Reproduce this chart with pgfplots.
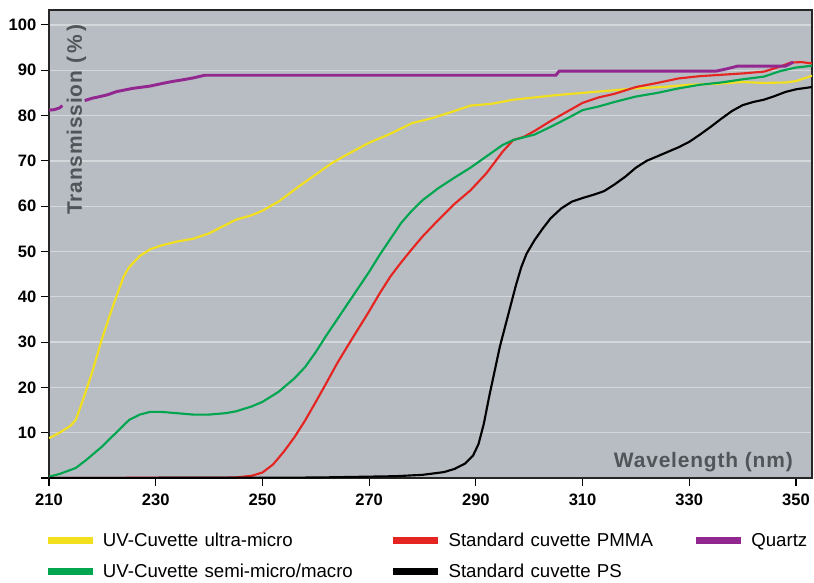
\documentclass[border=0pt]{standalone}
\usepackage{fontspec}
\setmainfont{Liberation Sans}
\newfontfamily\labfont[LetterSpace=4]{Liberation Sans}
\usepackage{pgfplots}
\pgfplotsset{compat=1.18}
\definecolor{bg}{HTML}{B8BDC3}
\definecolor{gridc}{HTML}{D5D8DB}
\definecolor{labgray}{HTML}{50555A}
\definecolor{cyel}{HTML}{F2E01E}
\definecolor{cred}{HTML}{E52521}
\definecolor{cgreen}{HTML}{00A550}
\definecolor{cpurple}{HTML}{92278F}
\begin{document}
\begin{tikzpicture}
\begin{axis}[
  at={(0,0)}, anchor=south west,
  scale only axis, width=572.25pt, height=351pt,
  xmin=210, xmax=353, ymin=0, ymax=103.3,
  axis background/.style={fill=bg},
  axis line style={draw=black!85, line width=1.2pt},
  xtick={210,230,...,350},
  ytick={0,10,...,100},
  yticklabels={,10,20,30,40,50,60,70,80,90,100},
  tick pos=left, tick align=outside, major tick length=6pt,
  tick style={black, line width=0.8pt},
  ymajorgrids, grid style={gridc, line width=1pt},
  ticklabel style={font=\fontsize{12.4}{14}\selectfont\bfseries},
  /pgf/number format/assume math mode=true,
  xticklabel style={yshift=-2.5pt},
  legend columns=3,
  legend style={at={(0,0)}, anchor=north west, xshift=-3.75pt, yshift=-41.5pt,
    draw=none, fill=none, inner sep=0pt, column sep=5.25pt, row sep=13.25pt,
    font=\fontsize{14}{16}\selectfont,
    nodes={inner sep=0pt, text height=10pt, text depth=0pt},
    /tikz/column 2/.style={nodes={text width=210pt}},
    /tikz/column 4/.style={nodes={text width=177.75pt}}},
  legend cell align=left,
  legend image code/.code={\draw[#1, line width=5pt, line cap=butt] (0pt,0pt) -- (33.75pt,0pt);},
]
% UV-Cuvette ultra-micro
\addplot[cyel, line width=1.6pt] coordinates {
(210,8.8)(212,10)(214,11.5)(215,12.8)(216,16)(218,23)(220,31)(222,38)(224,44.5)(225,46.5)
(227,49)(229,50.5)(231,51.3)(234,52.2)(237,52.8)(240,54)(243,55.8)(245,57)(248,58)(250,59)
(253,61)(257,64.5)(260,67)(263,69.5)(266,71.5)(270,74)(274,76)(278,78.3)(282,79.5)(286,81)
(289,82.2)(293,82.6)(297,83.5)(301,84)(305,84.5)(310,85)(315,85.5)(320,86)(325,86.3)(330,86.8)
(335,87)(340,87.4)(344,87.2)(348,87.3)(350,87.6)(353,88.8)};
\addlegendentry{UV-Cuvette ultra-micro}
% Standard cuvette PMMA
\addplot[cred, line width=1.6pt] coordinates {
(210,0)(245,0.1)(248,0.5)(250,1.2)(252,3)(254,5.8)(256,9)(258,12.7)(260,16.8)(262,21)
(264,25.3)(266,29.2)(268,33)(270,36.8)(272,40.8)(274,44.5)(276,47.6)(278,50.5)(280,53.3)(283,57)
(286,60.5)(289,63.5)(292,67.3)(295,72)(297,74.6)(299,75.3)(301,76.6)(304,78.8)(307,80.8)(310,82.8)
(313,84)(316,84.8)(320,86.3)(324,87.2)(328,88.2)(332,88.7)(336,89)(340,89.3)(344,89.7)(347,90.8)
(349,91.7)(351,91.8)(353,91.5)};
\addlegendentry{Standard cuvette PMMA}
% Quartz
\addplot[cpurple, line width=2.2pt] coordinates {
(210,81.2)(211,81.3)(212,81.7)(212.5,82.2)};
\addlegendentry{Quartz}
% UV-Cuvette semi-micro/macro
\addplot[cgreen, line width=1.6pt] coordinates {
(210,0.3)(212,0.9)(215,2.2)(217,4)(220,7)(223,10.5)(225,12.8)(227,14)(229,14.6)(231,14.6)
(234,14.3)(237,14)(240,14)(243,14.3)(245,14.7)(248,15.8)(250,16.8)(253,19)(256,22)(258,24.5)
(260,27.8)(262,31.5)(264,35)(266,38.5)(268,42)(270,45.5)(272,49.3)(274,52.8)(276,56.3)(278,59)
(280,61.3)(283,64)(286,66.3)(289,68.5)(292,71)(295,73.5)(297,74.6)(299,75.2)(301,75.8)(304,77.5)
(307,79.3)(310,81.2)(313,82)(316,83)(320,84.2)(324,85)(328,86)(332,86.8)(336,87.3)(340,88)
(344,88.6)(347,89.8)(350,90.6)(353,91)};
\addlegendentry{UV-Cuvette semi-micro/macro}
% Standard cuvette PS
\addplot[black, line width=1.6pt] coordinates {
(210,0)(260,0.1)(270,0.3)(275,0.4)(280,0.7)(284,1.3)(286,2)(288,3.2)(289.5,5)(290.5,7.5)
(291.5,12)(292.5,18)(293.5,23.5)(294.5,29)(295.5,33.5)(296.5,38)(297.5,42.5)(298.5,46.5)(299.5,49.5)(301,52.5)
(302.5,55)(304,57.3)(306,59.5)(308,61)(310,61.8)(312,62.5)(314,63.3)(316,64.8)(318,66.5)(320,68.5)
(322,70)(324,71)(326,72)(328,73)(330,74.2)(332,75.8)(334,77.5)(336,79.3)(338,81)(340,82.3)
(342,83)(344,83.5)(346,84.3)(348,85.2)(350,85.8)(353,86.3)};
\addlegendentry{Standard cuvette PS}
% Quartz, second segment
\addplot[cpurple, line width=2.2pt, forget plot] coordinates {
(216.7,83.3)(218,83.8)(219.6,84.2)(221,84.6)(222.7,85.3)(224,85.6)(225.7,86)(227,86.2)(228.9,86.5)(230.5,86.9)
(232.1,87.3)(233.5,87.6)(235.1,87.9)(237,88.3)(239.2,88.9)(305,88.9)(305.6,89.8)(335,89.8)(337,90.3)(339,90.9)
(348,90.9)(349,91.5)(349.5,91.8)};
\node[anchor=base east, font=\labfont\bfseries\fontsize{15.7}{18}\selectfont, text=labgray, inner sep=0pt]
  at ([xshift=-14.25pt, yshift=8.25pt]rel axis cs:1,0) {Wavelength (nm)};
\node[rotate=90, anchor=base west, font=\labfont\bfseries\fontsize{15.7}{18}\selectfont, text=labgray, inner sep=0pt]
  at ([xshift=24.75pt, yshift=197.25pt]rel axis cs:0,0) {Transmission (\,\%\,)};
\end{axis}
\pgfresetboundingbox
\path[use as bounding box] (-36.75pt,-78pt) rectangle (573.75pt,358.5pt);
\end{tikzpicture}
\end{document}
